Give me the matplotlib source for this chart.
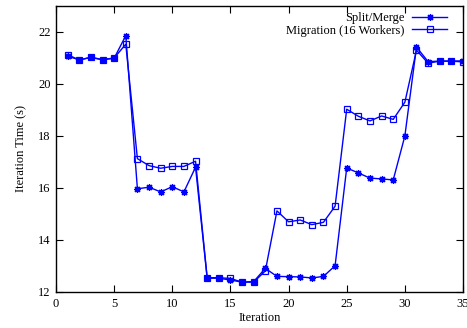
import matplotlib
matplotlib.use("Agg")
import matplotlib.pyplot as plt

iterations = list(range(1, 36))
split_merge = [21.07, 20.93, 21.02, 20.93, 20.99, 21.86, 15.97, 16.03, 15.85, 16.05, 15.85, 16.8,
               12.53, 12.53, 12.46, 12.38, 12.4, 12.91, 12.6, 12.59, 12.58, 12.54, 12.6, 13.01,
               16.77, 16.58, 16.38, 16.35, 16.31, 18.0, 21.42, 20.86, 20.88, 20.88, 20.89]
migration = [21.13, 20.92, 21.03, 20.94, 21.0, 21.53, 17.13, 16.86, 16.76, 16.83, 16.83, 17.03,
             12.55, 12.55, 12.52, 12.38, 12.38, 12.81, 15.12, 14.7, 14.77, 14.59, 14.68, 15.3,
             19.03, 18.76, 18.58, 18.77, 18.64, 19.3, 21.3, 20.8, 20.88, 20.88, 20.85]

plt.rcParams['font.family'] = ['Liberation Serif', 'DejaVu Serif']
fig = plt.figure(figsize=(4.67, 3.28), dpi=100)
ax = fig.add_axes([56/467, 1 - 292/328, (463-56)/467, (292-6)/328])

blue = '#0000ff'
ax.plot(iterations, split_merge, color=blue, lw=1, marker=(8, 2, 0), ms=5, mew=0.9,
        label='Split/Merge')
ax.plot(iterations, migration, color=blue, lw=1, marker='s', ms=4.5, mfc='none', mew=0.9,
        label='Migration (16 Workers)')

ax.set_xlim(0, 35)
ax.set_ylim(12, 23)
ax.set_xticks(range(0, 36, 5))
ax.set_yticks(range(12, 23, 2))
ax.tick_params(direction='in', top=True, right=True, length=5, width=0.8, labelsize=9, pad=4)
for s in ax.spines.values():
    s.set_linewidth(1)
ax.set_xlabel('Iteration', fontsize=9, labelpad=2)
ax.set_ylabel('Iteration Time (s)', fontsize=9, labelpad=8)

leg = ax.legend(loc='upper right', bbox_to_anchor=(0.973, 0.996), frameon=False, fontsize=9,
                markerfirst=False, handlelength=2.8, borderaxespad=0, labelspacing=0.05,
                handletextpad=0.6)

fig.savefig('out.png', dpi=100)
